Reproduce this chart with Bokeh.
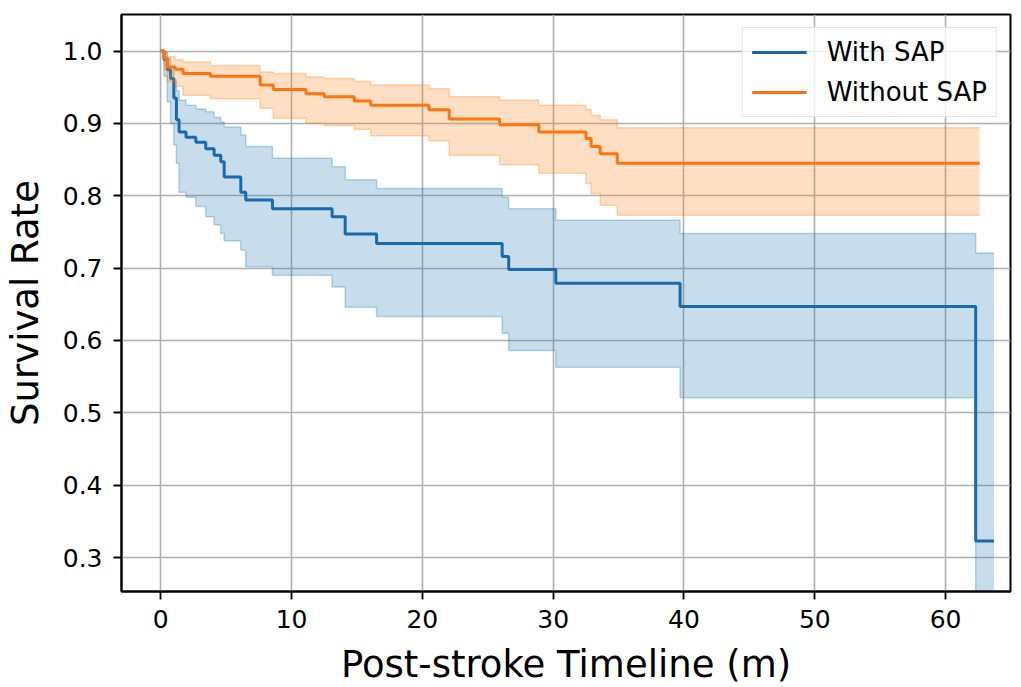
from bokeh.plotting import figure
from bokeh.models import Range1d, FixedTicker, Legend, LegendItem
from bokeh.embed import file_html
from bokeh.resources import INLINE

# ---------------- data ----------------
# With SAP: step times, survival estimate, upper / lower confidence bounds
sap_t  = [0, 0.25, 0.5, 0.75, 1.0, 1.2, 1.4, 1.93, 2.68, 3.44, 4.08, 4.59, 4.85,
          6.12, 6.5, 8.54, 13.1, 14.1, 16.5, 26.1, 26.6, 30.2, 39.7, 62.3, 63.7]
sap_s  = [1.000, 0.988, 0.974, 0.962, 0.935, 0.905, 0.888, 0.881, 0.874, 0.865, 0.856, 0.847, 0.826,
          0.805, 0.794, 0.782, 0.771, 0.747, 0.734, 0.716, 0.698, 0.679, 0.647, 0.323, 0.323]
sap_up = [1.000, 0.998, 0.990, 0.978, 0.960, 0.945, 0.932, 0.925, 0.920, 0.916, 0.908, 0.902, 0.895,
          0.884, 0.868, 0.852, 0.840, 0.822, 0.810, 0.798, 0.782, 0.766, 0.748, 0.721, 0.721]
sap_lo = [1.000, 0.965, 0.930, 0.900, 0.870, 0.845, 0.805, 0.798, 0.785, 0.771, 0.760, 0.748, 0.738,
          0.725, 0.702, 0.690, 0.674, 0.646, 0.633, 0.610, 0.586, 0.563, 0.521, 0.050, 0.050]

# Without SAP
nosap_t  = [0, 0.25, 0.5, 1.1, 1.7, 3.8, 7.6, 8.6, 11.1, 12.5, 14.8, 16.05, 20.5, 22.05,
            25.9, 28.9, 32.5, 32.9, 33.6, 34.9, 62.6]
nosap_s  = [1.000, 0.990, 0.978, 0.975, 0.969, 0.965, 0.953, 0.947, 0.941, 0.937, 0.931, 0.925, 0.919, 0.906,
            0.898, 0.888, 0.879, 0.868, 0.858, 0.845, 0.845]
nosap_up = [1.000, 0.998, 0.992, 0.988, 0.985, 0.980, 0.971, 0.969, 0.964, 0.962, 0.958, 0.953, 0.948, 0.937,
            0.932, 0.925, 0.919, 0.911, 0.905, 0.894, 0.894]
nosap_lo = [1.000, 0.975, 0.958, 0.951, 0.939, 0.934, 0.921, 0.907, 0.900, 0.897, 0.892, 0.883, 0.876, 0.856,
            0.843, 0.831, 0.817, 0.803, 0.787, 0.773, 0.773]

series_names = ["With SAP", "Without SAP"]
x_ticks = [0, 10, 20, 30, 40, 50, 60]
y_ticks = [0.3, 0.4, 0.5, 0.6, 0.7, 0.8, 0.9, 1.0]
y_tick_labels = ["0.3", "0.4", "0.5", "0.6", "0.7", "0.8", "0.9", "1.0"]

BLUE = "#1f77b4"
ORANGE = "#ff7f0e"
BLUE_LINE = "#1666ae"
ORANGE_LINE = "#ff700c"
FONT = "DejaVu Sans"

p = figure(frame_width=889, frame_height=577, output_backend="svg", toolbar_location=None,
           x_range=Range1d(-3.0, 64.96), y_range=Range1d(0.2531, 1.0505),
           min_border_left=111, min_border_right=2, min_border_top=14, min_border_bottom=80)
p.background_fill_color = "white"
p.border_fill_color = "white"
p.outline_line_color = "black"
p.outline_line_width = 2

# grids
for g in (p.xgrid, p.ygrid):
    g.grid_line_color = "#b0b0b0"
    g.grid_line_width = 1.6
p.xgrid.ticker = FixedTicker(ticks=x_ticks)
p.ygrid.ticker = FixedTicker(ticks=y_ticks)

# axes
p.xaxis.ticker = FixedTicker(ticks=x_ticks)
p.yaxis.ticker = FixedTicker(ticks=y_ticks)
p.yaxis.major_label_overrides = {t: l for t, l in zip(y_ticks, y_tick_labels)}
for ax in (p.xaxis, p.yaxis):
    ax.axis_line_color = "black"
    ax.axis_line_width = 2
    ax.major_tick_line_color = "black"
    ax.major_tick_line_width = 1.8
    ax.major_tick_out = 8
    ax.major_tick_in = 0
    ax.minor_tick_line_color = None
    ax.major_label_text_font = FONT
    ax.major_label_text_font_size = "25px"
    ax.major_label_text_color = "black"
    ax.axis_label_text_font = FONT
    ax.axis_label_text_font_size = "37px"
    ax.axis_label_text_font_style = "normal"
    ax.axis_label_text_color = "black"
p.xaxis.major_label_standoff = 10
p.yaxis.major_label_standoff = 11
p.xaxis.axis_label = "Post-stroke Timeline (m)"
p.yaxis.axis_label = "Survival Rate"
p.xaxis.axis_label_standoff = 12
p.yaxis.axis_label_standoff = 13

# With SAP
r1 = p.step(sap_t, sap_s, mode="after", line_color=BLUE_LINE, line_width=3)
p.varea_step(x=sap_t, y1=sap_lo, y2=sap_up, step_mode="after", fill_color=BLUE, fill_alpha=0.25)
p.step(sap_t, sap_up, mode="after", line_color=BLUE, line_alpha=0.3, line_width=1.5)
p.step(sap_t, sap_lo, mode="after", line_color=BLUE, line_alpha=0.3, line_width=1.5)

# Without SAP
r2 = p.step(nosap_t, nosap_s, mode="after", line_color=ORANGE_LINE, line_width=3)
p.varea_step(x=nosap_t, y1=nosap_lo, y2=nosap_up, step_mode="after", fill_color=ORANGE, fill_alpha=0.25)
p.step(nosap_t, nosap_up, mode="after", line_color=ORANGE, line_alpha=0.3, line_width=1.5)
p.step(nosap_t, nosap_lo, mode="after", line_color=ORANGE, line_alpha=0.3, line_width=1.5)

legend = Legend(items=[LegendItem(label=series_names[0], renderers=[r1]),
                       LegendItem(label=series_names[1], renderers=[r2])],
                location="top_right")
legend.margin = 13
legend.padding = 9
legend.spacing = 10
legend.glyph_width = 55
legend.glyph_height = 30
legend.label_standoff = 20
legend.label_text_font = FONT
legend.label_text_font_size = "26px"
legend.label_text_color = "black"
legend.border_line_color = "#cccccc"
legend.border_line_width = 1.5
legend.background_fill_color = "white"
legend.background_fill_alpha = 0.8
p.add_layout(legend, "center")

open("out.html", "w").write(file_html(p, INLINE))
